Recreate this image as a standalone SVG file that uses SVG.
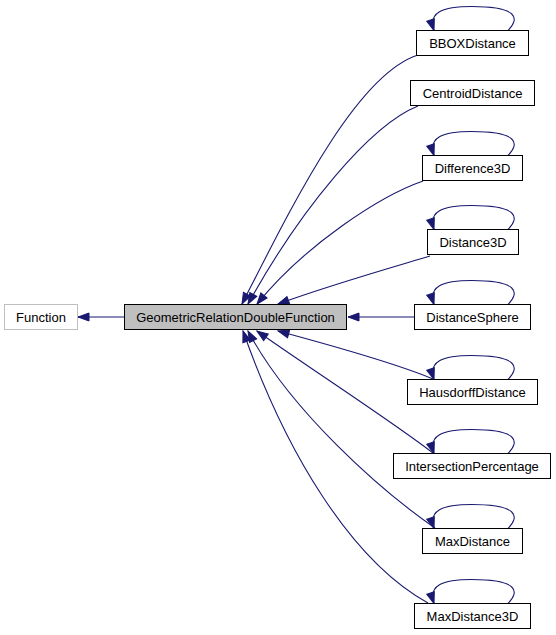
<svg xmlns="http://www.w3.org/2000/svg" width="556" height="635" viewBox="0 0 556 635">
<style>
  .box { fill: #ffffff; stroke: #000000; stroke-width: 1; }
  .base { fill: #ffffff; stroke: #bfbfbf; stroke-width: 1; }
  .cur { fill: #bfbfbf; stroke: #000000; stroke-width: 1; }
  text { font-family: "Liberation Sans", Arial, sans-serif; font-size: 13px; fill: #000000; text-anchor: middle; }
  .edge { fill: none; stroke: #191970; stroke-width: 1.1; marker-end: url(#arrow); }
</style>
<defs>
  <marker id="arrow" markerUnits="userSpaceOnUse" markerWidth="14" markerHeight="11" refX="11.5" refY="4.5" orient="auto" overflow="visible">
    <path d="M0.5,0.5 L11.5,4.5 L0.5,8.5 z" fill="#191970" stroke="#191970" stroke-width="1"/>
  </marker>
</defs>
<rect width="556" height="635" fill="#ffffff"/>

<g id="connectors">
  <path class="edge" d="M124.5,317 L78,317"/>
  <path class="edge" d="M418,55 C355,75 290,210 242,304"/>
  <path class="edge" d="M418,106 C370,125 300,210 248,304"/>
  <path class="edge" d="M423,181 C380,196 305,245 257,304"/>
  <path class="edge" d="M430,256 C390,268 330,285 278,304"/>
  <path class="edge" d="M414,317 L348,317"/>
  <path class="edge" d="M433,379 C400,365 330,345 278,331"/>
  <path class="edge" d="M433,453 C390,420 305,365 257,331"/>
  <path class="edge" d="M435,528 C380,490 290,410 248,331"/>
  <path class="edge" d="M428,603 C350,560 285,450 243,331"/>
  <path class="edge" d="M508,30.5 C520,18.5 518,6.5 472,6.5 C442,6.5 428,12.5 434,30.5"/>
  <path class="edge" d="M508,155.5 C520,143.5 518,131.5 472,131.5 C442,131.5 428,137.5 434,155.5"/>
  <path class="edge" d="M508,229.5 C520,217.5 518,205.5 472,205.5 C442,205.5 428,211.5 434,229.5"/>
  <path class="edge" d="M508,304.5 C520,292.5 518,280.5 472,280.5 C442,280.5 428,286.5 434,304.5"/>
  <path class="edge" d="M508,379.5 C520,367.5 518,355.5 472,355.5 C442,355.5 428,361.5 434,379.5"/>
  <path class="edge" d="M508,453.5 C520,441.5 518,429.5 472,429.5 C442,429.5 428,435.5 434,453.5"/>
  <path class="edge" d="M508,528.5 C520,516.5 518,504.5 472,504.5 C442,504.5 428,510.5 434,528.5"/>
  <path class="edge" d="M508,603.5 C520,591.5 518,579.5 472,579.5 C442,579.5 428,585.5 434,603.5"/>
</g>

<g id="Function">
  <rect class="base" x="4.5" y="304.5" width="73" height="25"/>
  <text x="41" y="321.5">Function</text>
</g>
<g id="GeometricRelationDoubleFunction">
  <rect class="cur" x="124.5" y="304.5" width="222" height="25"/>
  <text x="235.5" y="321.5">GeometricRelationDoubleFunction</text>
</g>
<g id="BBOXDistance">
  <rect class="box" x="416.5" y="30.5" width="112" height="25"/>
  <text x="472.5" y="47.5">BBOXDistance</text>
</g>
<g id="CentroidDistance">
  <rect class="box" x="410.5" y="80.5" width="124" height="25"/>
  <text x="472.5" y="97.5">CentroidDistance</text>
</g>
<g id="Difference3D">
  <rect class="box" x="422.5" y="155.5" width="100" height="25"/>
  <text x="472.5" y="172.5">Difference3D</text>
</g>
<g id="Distance3D">
  <rect class="box" x="427.5" y="229.5" width="91" height="25"/>
  <text x="473" y="246.5">Distance3D</text>
</g>
<g id="DistanceSphere">
  <rect class="box" x="414.5" y="304.5" width="116" height="25"/>
  <text x="472.5" y="321.5">DistanceSphere</text>
</g>
<g id="HausdorffDistance">
  <rect class="box" x="407.5" y="379.5" width="130" height="25"/>
  <text x="472.5" y="396.5">HausdorffDistance</text>
</g>
<g id="IntersectionPercentage">
  <rect class="box" x="393.5" y="453.5" width="157" height="25"/>
  <text x="472" y="470.5">IntersectionPercentage</text>
</g>
<g id="MaxDistance">
  <rect class="box" x="422.5" y="528.5" width="100" height="25"/>
  <text x="472.5" y="545.5">MaxDistance</text>
</g>
<g id="MaxDistance3D">
  <rect class="box" x="414.5" y="603.5" width="116" height="25"/>
  <text x="472.5" y="620.5">MaxDistance3D</text>
</g>
</svg>
